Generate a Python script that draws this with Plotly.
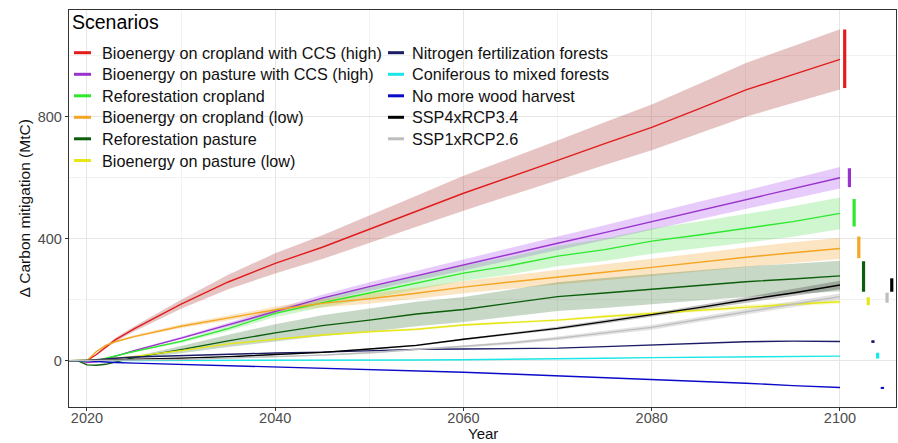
import plotly.graph_objects as go

# ---------------- data ----------------
years = [2018, 2019, 2020, 2021, 2022, 2023, 2025, 2030, 2035, 2040, 2045,
         2050, 2055, 2060, 2065, 2070, 2075, 2080, 2085, 2090, 2095, 2100]

red = [0, 0, 0, 20, 45, 68, 104, 185, 258, 319, 372, 430, 490, 549, 602, 657, 712, 765, 826, 888, 938, 988]
red_sd = [0, 0, 0, 2, 4, 6, 8, 15, 24, 33, 39, 45, 51, 57, 61, 65, 70, 75, 81, 88, 93, 99]
purple = [0, 0, -6, -4, 5, 15, 33, 74, 118, 163, 205, 243, 279, 314, 350, 385, 420, 456, 492, 527, 563, 600]
purple_sd = [0, 0, 0, 0, 1, 1, 2, 4, 6, 8, 11, 14, 16, 18, 20, 22, 24, 27, 29, 31, 33, 35]
green = [0, 0, -2, 0, 8, 16, 30, 63, 105, 155, 190, 222, 255, 287, 312, 343, 364, 392, 412, 434, 456, 483]
green_sd = [0, 0, 0, 0, 1, 1, 2, 5, 8, 12, 16, 20, 23, 25, 29, 33, 37, 41, 44, 47, 50, 52]
orange = [0, 0, 0, 30, 50, 62, 79, 113, 140, 167, 188, 203, 221, 241, 258, 273, 290, 306, 323, 339, 354, 368]
orange_sd = [0, 0, 0, 2, 3, 3, 4, 6, 8, 10, 13, 16, 18, 20, 22, 24, 26, 28, 30, 32, 34, 35]
dkgreen = [0, 0, -14, -15, -12, -4, 10, 36, 65, 91, 115, 133, 153, 168, 190, 210, 222, 234, 247, 259, 268, 278]
dkgreen_sd = [0, 0, 0, 0, 1, 2, 4, 12, 20, 28, 34, 38, 40, 41, 44, 47, 49, 50, 50, 50, 50, 50]
yellow = [0, 0, 0, 2, 5, 8, 14, 33, 55, 70, 84, 95, 103, 117, 125, 133, 145, 155, 166, 177, 185, 193]
yellow_sd = [0, 0, 0, 0, 0, 0, 1, 1, 2, 2, 3, 3, 3, 4, 4, 4, 5, 5, 5, 6, 6, 6]
navy = [0, 0, 0, 3, 6, 8, 12, 17, 22, 25, 28, 32, 37, 38, 40, 41, 46, 51, 55, 62, 64, 63]
cyan = [0, 0, 0, 0, 0, 0, 0, 0.5, 1, 1.5, 2, 2, 2, 3, 4, 6, 8, 10, 11, 13, 14, 15]
blue = [0, 0, 0, -3, -5, -6, -8, -12, -16, -20, -25, -30, -34, -38, -44, -50, -55, -61, -67, -74, -82, -88]
black = [0, 0, 0, 1, 2, 3, 4, 8, 13, 20, 27, 38, 50, 70, 88, 106, 128, 150, 174, 199, 222, 248]
black_sd = [0, 0, 0, 0, 0, 0, 0, 1, 1, 2, 2, 2, 3, 3, 4, 5, 6, 6, 8, 10, 12, 14]
gray = [0, 0, 0, 0, 1, 1, 2, 4, 8, 12, 18, 26, 37, 46, 58, 73, 90, 109, 135, 161, 185, 210]
gray_sd = [0, 0, 0, 0, 0, 0, 0, 1, 1, 2, 2, 3, 3, 4, 5, 6, 7, 8, 8, 9, 10, 10]

names = ["Bioenergy on cropland with CCS (high)", "Bioenergy on pasture with CCS (high)",
         "Reforestation cropland", "Bioenergy on cropland (low)", "Reforestation pasture",
         "Bioenergy on pasture (low)", "Nitrogen fertilization forests",
         "Coniferous to mixed forests", "No more wood harvest", "SSP4xRCP3.4", "SSP1xRCP2.6"]

# 2100 ranges (bars to the right of the panel), in legend order
bar_low = [894, 569, 440, 336, 226, 182, 58, 7, -93, 226, 190]
bar_high = [1086, 631, 530, 407, 326, 208, 67, 26, -86, 270, 223]
# horizontal order of the bars (indices into the legend order)
bar_order = [0, 1, 2, 3, 4, 5, 6, 7, 8, 10, 9]

x_ticks = [2020, 2040, 2060, 2080, 2100]
y_ticks = [0, 400, 800]

# ---------------- styling ----------------
line_colors = ["#e21c1c", "#9933cc", "#2ee82e", "#f4a522", "#0b5e0b", "#e6e619",
               "#1c1c66", "#19e6e6", "#0a0ac8", "#000000", "#bebebe"]
band_colors = ["rgba(165,42,42,0.28)", "rgba(160,50,240,0.25)", "rgba(40,215,40,0.22)",
               "rgba(240,160,40,0.28)", "rgba(30,100,30,0.25)", "rgba(230,230,30,0.25)",
               None, None, None, "rgba(60,60,60,0.30)", "rgba(175,175,175,0.35)"]

series = [red, purple, green, orange, dkgreen, yellow, navy, cyan, blue, black, gray]
sds = [red_sd, purple_sd, green_sd, orange_sd, dkgreen_sd, yellow_sd, None, None, None, black_sd, gray_sd]

W, H = 898, 443
ML, MR, MT, MB = 69, 2, 10, 36
PW, PH = W - ML - MR, H - MT - MB
FONT = "Liberation Sans, Arial, sans-serif"


def px(xp):
    return (xp - ML) / PW


def py(yp):
    return (H - MB - yp) / PH


fig = go.Figure()

# ribbons
for vals, sd, bc in zip(series, sds, band_colors):
    if sd is None:
        continue
    up = [v + s for v, s in zip(vals, sd)]
    lo = [v - s for v, s in zip(vals, sd)]
    fig.add_trace(go.Scatter(x=years, y=up, mode="lines", line=dict(width=0),
                             hoverinfo="skip", showlegend=False))
    fig.add_trace(go.Scatter(x=years, y=lo, mode="lines", line=dict(width=0),
                             fill="tonexty", fillcolor=bc, hoverinfo="skip", showlegend=False))

# mean lines
for vals, c, n in zip(series, line_colors, names):
    fig.add_trace(go.Scatter(x=years, y=vals, mode="lines", name=n,
                             line=dict(color=c, width=1.4), showlegend=False))

# 2100 range bars
for k, i in enumerate(bar_order):
    xb = 2100.5 + 0.5 * k
    fig.add_trace(go.Scatter(x=[xb, xb], y=[bar_low[i], bar_high[i]], mode="lines",
                             line=dict(color=line_colors[i], width=3.2),
                             showlegend=False, hoverinfo="skip"))

# ---------------- manual legend ----------------
annotations = []
shapes = []
annotations.append(dict(text="Scenarios", x=px(70), y=py(22), xref="paper", yref="paper",
                        xanchor="left", yanchor="middle", showarrow=False,
                        font=dict(family=FONT, size=19.5, color="#000000")))
row_y = [52.7, 74.3, 95.8, 117.3, 138.8, 160.5]
for i, n in enumerate(names):
    col = 0 if i < 6 else 1
    r = i if i < 6 else i - 6
    x0, x1, xt = (74, 91, 100) if col == 0 else (388, 404, 410)
    yy = py(row_y[r])
    shapes.append(dict(type="line", xref="paper", yref="paper", x0=px(x0), x1=px(x1),
                       y0=yy, y1=yy, line=dict(color=line_colors[i], width=3)))
    annotations.append(dict(text=n, x=px(xt), y=yy, xref="paper", yref="paper",
                            xanchor="left", yanchor="middle", showarrow=False,
                            font=dict(family=FONT, size=16.2, color="#111111")))

# axis titles
annotations.append(dict(text="Year", x=0.5, y=py(433), xref="paper", yref="paper",
                        xanchor="center", yanchor="middle", showarrow=False,
                        font=dict(family=FONT, size=15, color="#111111")))
annotations.append(dict(text="\u0394 Carbon mitigation (MtC)", x=px(24), y=0.5, xref="paper",
                        yref="paper", xanchor="center", yanchor="middle", showarrow=False,
                        textangle=-90, font=dict(family=FONT, size=15.5, color="#111111")))

axis_common = dict(ticks="outside", ticklen=3, tickcolor="#333333",
                   tickfont=dict(family=FONT, size=14.5, color="#4d4d4d"),
                   showgrid=True, gridcolor="#e6e6e6", gridwidth=1.1,
                   showline=True, linecolor="#333333", linewidth=1.3, mirror=True,
                   zeroline=False, automargin=False)

fig.update_layout(
    width=W, height=H,
    margin=dict(l=ML, r=MR, t=MT, b=MB, autoexpand=False),
    plot_bgcolor="white", paper_bgcolor="white",
    annotations=annotations, shapes=shapes,
    showlegend=False,
    xaxis=dict(range=[2018.09, 2105.95], tickvals=x_ticks, ticklabelstandoff=-6,
               minor=dict(tickvals=[2030, 2050, 2070, 2090], showgrid=True,
                          gridcolor="#f2f2f2", gridwidth=0.8, ticks=""),
               **axis_common),
    yaxis=dict(range=[-152, 1150], tickvals=y_ticks,
               minor=dict(tickvals=[200, 600, 1000], showgrid=True,
                          gridcolor="#f2f2f2", gridwidth=0.8, ticks=""),
               **axis_common),
)

fig.write_html("out.html", config={"displayModeBar": False},
               post_script="document.body.style.margin='0px';")
